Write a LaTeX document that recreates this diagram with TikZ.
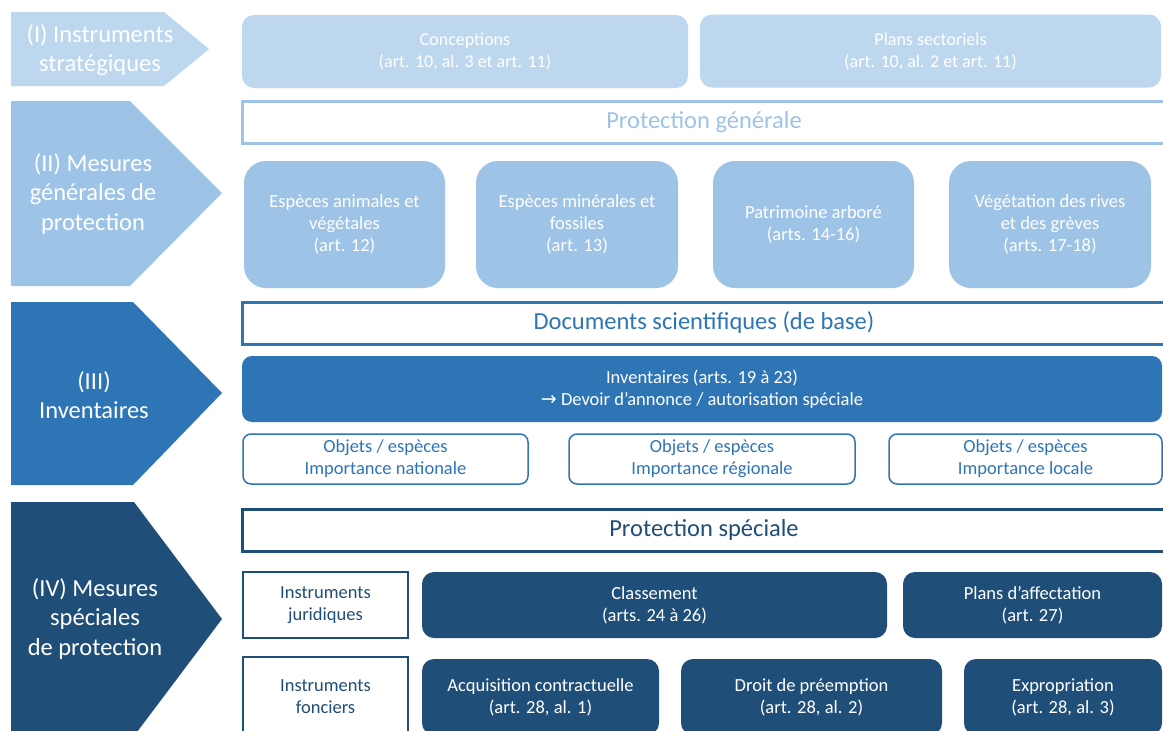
\documentclass[tikz,border=0pt]{standalone}
\usepackage{fontspec}
\setmainfont{Carlito}
\newfontfamily\symf{DejaVu Sans}
\definecolor{cA}{HTML}{BDD7EE}
\definecolor{cB}{HTML}{9DC3E6}
\definecolor{cC}{HTML}{2E75B6}
\definecolor{cD}{HTML}{1F4E79}
\begin{document}
\begin{tikzpicture}[x=1pt,y=-1pt,
  chevtxt/.style={text=white, align=center, font=\fontsize{24.5}{29.5}\selectfont, inner sep=0pt},
  fillbox/.style={rounded corners=#1, draw=none, align=center, text=white, font=\fontsize{18.5}{22}\selectfont, inner sep=0pt},
  fillbox/.default=12pt,
  titlebox/.style={draw=#1, line width=3pt, fill=white, text=#1, font=\fontsize{24.5}{28}\selectfont, inner sep=0pt},
  outbox/.style={draw=#1, line width=1.5pt, fill=white, text=#1, align=center, font=\fontsize{18.5}{22}\selectfont, inner sep=0pt},
]
\useasboundingbox (0,0) rectangle (1163,731);
\clip (0,0) rectangle (1163,731);
\fill[white] (0,0) rectangle (1163,731);

% Chevrons
\fill[cA] (11,12) -- (164,12) -- (209,49) -- (164,86) -- (11,86) -- cycle;
\node[chevtxt] (c1) at (100,50) {(I) Instruments\\strat\'egiques};
\fill[cB] (11,101) -- (130,101) -- (222,193) -- (130,286) -- (11,286) -- cycle;
\node[chevtxt] (c2) at (93,194) {(II) Mesures\\g\'en\'erales de\\protection};
\fill[cC] (11,302) -- (133,302) -- (222,393) -- (133,485) -- (11,485) -- cycle;
\node[chevtxt] (c3) at (94,395) {(III)\\Inventaires};
\fill[cD] (11,502) -- (134,502) -- (222,619) -- (134,736) -- (11,736) -- cycle;
\node[chevtxt] (c4) at (95,619) {(IV) Mesures\\sp\'eciales\\de protection};

% Row I
\node[fillbox, fill=cA, font=\fontsize{18}{22}\selectfont, minimum width=446pt, minimum height=73pt] (conc) at (465,51.5) {Conceptions\\(art. 10, al. 3 et art. 11)};
\node[fillbox, fill=cA, font=\fontsize{18}{22}\selectfont, minimum width=461pt, minimum height=73pt] (plans) at (930.5,51) {Plans sectoriels\\(art. 10, al. 2 et art. 11)};

% Row II
\node[titlebox=cB, minimum width=924pt, minimum height=42pt] (pg) at (704,122) {\raisebox{-2pt}{Protection g\'en\'erale}};
\node[fillbox=22pt, fill=cB, minimum width=201pt, minimum height=127pt] (esp1) at (344.5,224.5) {Esp\`eces animales et\\v\'eg\'etales\\(art. 12)};
\node[fillbox=22pt, fill=cB, minimum width=202pt, minimum height=127pt] (esp2) at (577,224.5) {Esp\`eces min\'erales et\\fossiles\\(art. 13)};
\node[fillbox=22pt, fill=cB, minimum width=201pt, minimum height=127pt] (patr) at (813.5,224.5) {Patrimoine arbor\'e\\(arts. 14-16)};
\node[fillbox=22pt, fill=cB, minimum width=202pt, minimum height=127pt] (veg) at (1050,224.5) {V\'eg\'etation des rives\\et des gr\`eves\\(arts. 17-18)};

% Row III
\node[titlebox=cC, minimum width=924pt, minimum height=42pt] (docs) at (704,323) {\raisebox{-2pt}{Documents scientifiques (de base)}};
\node[fillbox=10pt, fill=cC, minimum width=920pt, minimum height=66pt] (inv) at (702,389) {Inventaires (arts. 19 \`a 23)\\{\symf\fontsize{19}{22}\selectfont →} Devoir d’annonce / autorisation sp\'eciale};
\node[outbox=cC, rounded corners=8pt, minimum width=285pt, minimum height=50pt] (on) at (385.5,459) {Objets / esp\`eces\\Importance nationale};
\node[outbox=cC, rounded corners=8pt, minimum width=286pt, minimum height=50pt] (or) at (712,459) {Objets / esp\`eces\\Importance r\'egionale};
\node[outbox=cC, rounded corners=8pt, minimum width=273pt, minimum height=50pt] (ol) at (1025.5,459) {Objets / esp\`eces\\Importance locale};

% Row IV
\node[titlebox=cD, minimum width=924pt, minimum height=42pt] (ps) at (704,530) {\raisebox{-2pt}{Protection sp\'eciale}};
\node[outbox=cD, minimum width=165pt, minimum height=66pt] (ij) at (325.5,605) {Instruments\\juridiques};
\node[fillbox, fill=cD, minimum width=465pt, minimum height=66pt] (cl) at (654.5,605) {Classement\\(arts. 24 \`a 26)};
\node[fillbox, fill=cD, minimum width=259pt, minimum height=66pt] (pa) at (1032.5,605) {Plans d’affectation\\(art. 27)};
\node[outbox=cD, minimum width=165pt, minimum height=80pt] (if) at (325.5,697) {Instruments\\fonciers};
\node[fillbox, fill=cD, minimum width=237pt, minimum height=76pt] (acq) at (540.5,697) {Acquisition contractuelle\\(art. 28, al. 1)};
\node[fillbox, fill=cD, minimum width=261pt, minimum height=76pt] (dp) at (811.5,697) {Droit de pr\'eemption\\(art. 28, al. 2)};
\node[fillbox, fill=cD, minimum width=198pt, minimum height=76pt] (ex) at (1063,697) {Expropriation\\(art. 28, al. 3)};
\end{tikzpicture}
\end{document}
